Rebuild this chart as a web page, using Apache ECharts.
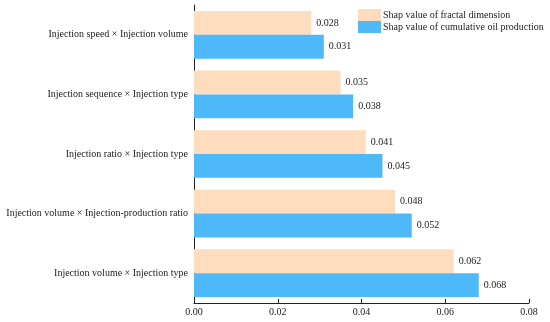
<!DOCTYPE html>
<html><head><meta charset="utf-8">
<script src="https://cdn.jsdelivr.net/npm/echarts@6/dist/echarts.min.js"></script>
<style>html,body{margin:0;padding:0;background:#fff}#c{width:550px;height:322px}</style>
</head><body><div id="c"></div>
<script>
// Categories bottom-to-top
const categories = [
  'Injection volume × Injection type',
  'Injection volume × Injection-production ratio',
  'Injection ratio × Injection type',
  'Injection sequence × Injection type',
  'Injection speed × Injection volume'
];
const fractalValues = [0.062, 0.048, 0.041, 0.035, 0.028];
const oilValues = [0.068, 0.052, 0.045, 0.038, 0.031];
const seriesNames = ['Shap value of fractal dimension', 'Shap value of cumulative oil production'];
const xTicks = [0, 0.02, 0.04, 0.06, 0.08];

const font = 'Liberation Serif';
const chart = echarts.init(document.getElementById('c'));
const labelOpt = {show: true, position: 'right', distance: 5, fontFamily: font, fontSize: 10, color: '#222',
  formatter: p => p.value.toFixed(3)};
chart.setOption({
  animation: false,
  textStyle: {fontFamily: font},
  legend: {
    data: seriesNames, orient: 'vertical', left: 358, top: 9, itemGap: 0,
    itemWidth: 23, itemHeight: 12, icon: 'rect', padding: 0,
    textStyle: {fontFamily: font, fontSize: 10, color: '#222', padding: [0,0,0,-3]}
  },
  grid: {left: 194, right: 21, top: 5, bottom: 19, containLabel: false, outerBoundsMode: 'none'},
  xAxis: {
    type: 'value', min: xTicks[0], max: xTicks[xTicks.length-1], interval: 0.02,
    axisLine: {show: true, lineStyle: {color: '#222', width: 1}},
    axisTick: {show: true, inside: true, length: 4, lineStyle: {color: '#222'}},
    axisLabel: {fontFamily: font, fontSize: 10, color: '#222', margin: 4, formatter: v => v.toFixed(2)},
    splitLine: {show: false}
  },
  yAxis: {
    type: 'category', data: categories,
    axisLine: {show: true, lineStyle: {color: '#222', width: 1}},
    axisTick: {show: false},
    axisLabel: {fontFamily: font, fontSize: 10, color: '#222', margin: 6}
  },
  series: [
    {name: seriesNames[0], type: 'bar', data: fractalValues, barGap: '0%', barCategoryGap: '20%',
     itemStyle: {color: '#FDDDBE'}, label: labelOpt},
    {name: seriesNames[1], type: 'bar', data: oilValues, barGap: '0%', barCategoryGap: '20%',
     itemStyle: {color: '#4DB9F9'}, label: labelOpt}
  ]
});
</script></body></html>
